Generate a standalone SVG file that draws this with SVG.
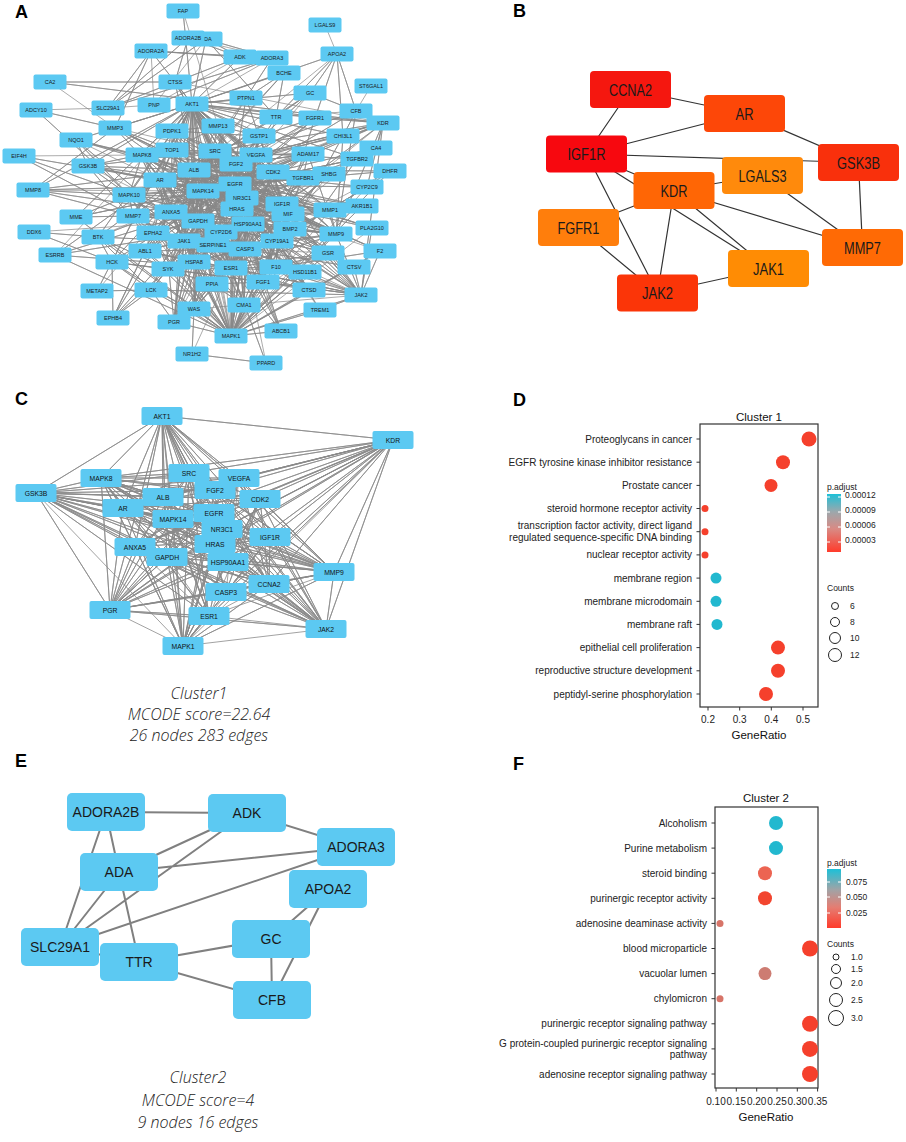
<svg xmlns="http://www.w3.org/2000/svg" width="906" height="1142" viewBox="0 0 906 1142">
<style>
.lbl{font:bold 18px "Liberation Sans",Arial,sans-serif;fill:#000}
.ea{fill:none;stroke:#888;stroke-width:0.7}
.ec{fill:none;stroke:#8a8a8a;stroke-width:0.8}
.eb{fill:none;stroke:#333;stroke-width:1.2}
.ee{fill:none;stroke:#808080;stroke-width:2}
.na text{font:5.5px "Liberation Sans",Arial,sans-serif;text-anchor:middle;fill:#1a1a1a}
.nc text{font:6.8px "Liberation Sans",Arial,sans-serif;text-anchor:middle;fill:#111}
.nb text{font:16px "Liberation Sans",Arial,sans-serif;text-anchor:middle;fill:#1a1a1a}
.ne text{font:14px "Liberation Sans",Arial,sans-serif;text-anchor:middle;fill:#1a1a1a}
.cap{font:italic 300 16px "Open Sans","Liberation Sans",sans-serif;text-anchor:middle;fill:#222}
.t10{font:10px "Liberation Sans",Arial,sans-serif;fill:#222}
.r{text-anchor:end}
.m{text-anchor:middle}
.t8{font:8.5px "Liberation Sans",Arial,sans-serif;fill:#222}
.ttl{font:11.5px "Liberation Sans",Arial,sans-serif;fill:#111;text-anchor:middle}
.box{fill:none;stroke:#333;stroke-width:1.2}
.tk{stroke:#333;stroke-width:1}
.wt{stroke:#fff;stroke-width:1}
.cnt{fill:none;stroke:#222;stroke-width:1}
</style>
<defs>
<rect id="ba" x="-16.5" y="-7.5" width="33" height="15" rx="2" fill="#5cc9f2"/>
<rect id="bc" x="-20.5" y="-9" width="41" height="18" rx="2" fill="#5cc9f2"/>
<rect id="bb" x="-40.5" y="-18.5" width="81" height="37" rx="4"/>
<rect id="be" x="-39" y="-19" width="78" height="38" rx="5" fill="#5cc9f2"/>
<linearGradient id="gd" x1="0" y1="0" x2="0" y2="1">
<stop offset="0" stop-color="#1cc0d8"/><stop offset="0.3" stop-color="#9aa8ad"/><stop offset="0.6" stop-color="#d98a84"/><stop offset="1" stop-color="#ff3b2b"/>
</linearGradient>
<linearGradient id="gf" x1="0" y1="0" x2="0" y2="1">
<stop offset="0" stop-color="#1cc0d8"/><stop offset="0.35" stop-color="#a0a3a6"/><stop offset="0.65" stop-color="#e57d72"/><stop offset="1" stop-color="#ff3b2b"/>
</linearGradient>
</defs>
<rect width="906" height="1142" fill="#fff"/>

<text class="lbl" x="15" y="18">A</text>
<text class="lbl" x="513" y="17">B</text>
<text class="lbl" x="15" y="405">C</text>
<text class="lbl" x="513" y="406">D</text>
<text class="lbl" x="15" y="767">E</text>
<text class="lbl" x="513" y="770">F</text>

<g id="edges-a">
<path class="ea" d="M192 104L214 151L192 104L194 170L192 104L203 191L192 104L232 185L192 104L242 198L192 104L237 209L192 104L248 224L192 104L198 221L192 104L243 249L192 104L231 268L192 104L282 204L192 104L273 172L192 104L236 164L192 104L256 155L192 104L160 180L192 104L170 212L192 104L184 241L192 104L277 241L192 104L288 214L192 104L192 262L192 104L231 336
M214 151L194 170L214 151L203 191L214 151L232 185L214 151L242 198L214 151L237 209L214 151L248 224L214 151L198 221L214 151L243 249L214 151L231 268L214 151L282 204L214 151L273 172L214 151L236 164L214 151L256 155L214 151L160 180L214 151L170 212L214 151L184 241L214 151L277 241L214 151L288 214L214 151L192 262L214 151L231 336
M194 170L203 191L194 170L232 185L194 170L242 198L194 170L237 209L194 170L248 224L194 170L198 221L194 170L243 249L194 170L231 268L194 170L282 204L194 170L273 172L194 170L236 164L194 170L256 155L194 170L160 180L194 170L170 212L194 170L184 241L194 170L277 241L194 170L288 214L194 170L192 262L194 170L231 336
M203 191L232 185L203 191L242 198L203 191L237 209L203 191L248 224L203 191L198 221L203 191L243 249L203 191L231 268L203 191L282 204L203 191L273 172L203 191L236 164L203 191L256 155L203 191L160 180L203 191L170 212L203 191L184 241L203 191L277 241L203 191L288 214L203 191L192 262L203 191L231 336
M232 185L242 198L232 185L237 209L232 185L248 224L232 185L198 221L232 185L243 249L232 185L231 268L232 185L282 204L232 185L273 172L232 185L236 164L232 185L256 155L232 185L160 180L232 185L170 212L232 185L184 241L232 185L277 241L232 185L288 214L232 185L192 262L232 185L231 336
M248 224L198 221L248 224L243 249L248 224L231 268L248 224L282 204L248 224L273 172L248 224L256 155L248 224L160 180L248 224L170 212L248 224L184 241L248 224L277 241L248 224L288 214L248 224L192 262L248 224L231 336
M198 221L243 249L198 221L231 268L198 221L282 204L198 221L273 172L198 221L256 155L198 221L160 180L198 221L184 241L198 221L277 241L198 221L288 214L198 221L192 262L198 221L231 336
M243 249L231 268L243 249L282 204L243 249L273 172L243 249L256 155L243 249L160 180L243 249L170 212L243 249L184 241L243 249L192 262L243 249L231 336L243 249L236 164
M231 268L282 204L231 268L273 172L231 268L256 155L231 268L160 180L231 268L170 212L231 268L184 241L231 268L192 262L231 268L231 336L231 268L288 214L231 268L236 164
M282 204L273 172L282 204L256 155L282 204L160 180L282 204L170 212L282 204L184 241L282 204L192 262L282 204L231 336L282 204L236 164
M273 172L160 180L273 172L170 212L273 172L184 241L273 172L192 262L273 172L231 336L273 172L277 241
M256 155L160 180L256 155L170 212L256 155L184 241L256 155L192 262L256 155L231 336L256 155L288 214L256 155L277 241
M160 180L170 212L160 180L184 241L160 180L192 262L160 180L231 336L160 180L277 241L160 180L288 214L160 180L236 164
M231 336L170 212L231 336L184 241L231 336L192 262L231 336L277 241L231 336L288 214L231 336L236 164L231 336L242 198L231 336L237 209"/>
<path class="ea" d="M183 11L192 104L183 11L218 126
M206 39L240 57L206 39L272 58L206 39L276 117L206 39L108 108L206 39L192 104L206 39L154 105
M188 38L240 57L188 38L108 108L188 38L175 82L188 38L272 58
M151 51L108 108L151 51L192 104L151 51L240 57L151 51L115 128L151 51L272 58L151 51L154 105
M240 57L272 58L240 57L108 108L240 57L192 104L240 57L154 105
M272 58L108 108L272 58L154 105L272 58L246 98L272 58L192 104
M325 25L337 54
M337 54L310 93L337 54L356 111L337 54L276 117L337 54L192 104L337 54L315 118L337 54L343 136L337 54L194 170
M284 73L194 170L284 73L192 104L284 73L276 117L284 73L246 98L284 73L214 151
M371 86L356 111
M50 82L383 123L50 82L175 82L50 82L115 128
M175 82L192 104L175 82L194 170L175 82L214 151L175 82L232 185L175 82L383 123
M310 93L192 104L310 93L194 170L310 93L356 111L310 93L276 117L310 93L203 191L310 93L232 185
M246 98L192 104L246 98L214 151L246 98L232 185L246 98L282 204L246 98L194 170
M36 110L115 128L36 110L129 195L36 110L108 108
M108 108L154 105
M356 111L194 170L356 111L383 123L356 111L343 136L356 111L336 234L356 111L232 185L356 111L276 117
M276 117L194 170L276 117L192 104L276 117L232 185L276 117L231 268
M315 118L192 104L315 118L214 151L315 118L232 185L315 118L236 164L315 118L263 282L315 118L198 221L315 118L383 123L315 118L203 191
M383 123L192 104L383 123L214 151L383 123L256 155L383 123L232 185L383 123L361 295L383 123L273 172L383 123L248 224L383 123L367 187L383 123L336 234L383 123L203 191L383 123L194 170L383 123L236 164L383 123L282 204
M115 128L192 104L115 128L194 170L115 128L203 191L115 128L232 185L115 128L336 234L115 128L330 210L115 128L140 155L115 128L214 151
M172 131L192 104L172 131L214 151L172 131L232 185L172 131L203 191L172 131L194 170
M218 126L192 104L218 126L194 170L218 126L336 234L218 126L232 185
M259 136L194 170L259 136L232 185L259 136L192 104L259 136L243 249
M343 136L192 104L343 136L232 185L343 136L194 170L343 136L231 336L343 136L336 234L343 136L203 191
M76 140L192 104L76 140L88 166L76 140L194 170L76 140L140 155L76 140L129 195L76 140L231 268L76 140L232 185L76 140L160 180
M376 148L273 172L376 148L383 123
M19 156L129 195L19 156L160 180L19 156L133 216L19 156L140 155
M140 155L192 104L140 155L214 151L140 155L194 170L140 155L232 185L140 155L203 191L140 155L198 221L140 155L184 241L140 155L231 336
M172 150L192 104L172 150L214 151L172 150L273 172L172 150L232 185
M308 154L192 104L308 154L232 185L308 154L336 234L308 154L194 170L308 154L303 178L308 154L214 151
M357 159L192 104L357 159L232 185L357 159L303 178L357 159L203 191L357 159L214 151L357 159L231 336L357 159L243 249
M329 174L160 180L329 174L231 268L329 174L194 170L329 174L277 241
M390 171L367 187L390 171L194 170L390 171L232 185L390 171L231 336L390 171L243 249
M88 166L192 104L88 166L160 180L88 166L140 155L88 166L203 191L88 166L214 151L88 166L232 185L88 166L231 336L88 166L231 268L88 166L194 170L88 166L198 221
M367 187L194 170L367 187L277 241L367 187L231 268L367 187L232 185L367 187L231 336
M33 190L115 128L33 190L336 234L33 190L192 104L33 190L194 170L33 190L129 195L33 190L232 185L33 190L133 216L33 190L203 191
M129 195L192 104L129 195L214 151L129 195L232 185L129 195L203 191L129 195L184 241L129 195L231 336L129 195L194 170L129 195L198 221
M362 206L194 170L362 206L232 185L362 206L231 336L362 206L203 191
M330 210L336 234L330 210L232 185L330 210L192 104L330 210L194 170L330 210L231 336
M76 217L133 216L76 217L232 185L76 217L192 104L76 217L231 336L76 217L194 170L76 217L203 191
M133 216L192 104L133 216L232 185L133 216L336 234L133 216L231 336L133 216L194 170L133 216L231 268L133 216L243 249
M372 228L232 185L372 228L194 170L372 228L203 191L372 228L361 295L372 228L231 336
M336 234L192 104L336 234L232 185L336 234L194 170L336 234L231 336L336 234L361 295L336 234L231 268L336 234L243 249L336 234L248 224L336 234L203 191
M34 232L98 237L34 232L112 262L34 232L198 221
M98 237L192 104L98 237L214 151L98 237L168 269L98 237L231 336L98 237L184 241L98 237L232 185L98 237L112 262L98 237L151 290L98 237L203 191
M153 233L214 151L153 233L232 185L153 233L192 104L153 233L231 336
M218 245L192 104L218 245L361 295
M328 253L194 170L328 253L198 221L328 253L248 224L328 253L231 336L328 253L361 295L328 253L243 249
M380 251L194 170L380 251L232 185L380 251L231 336L380 251L361 295L380 251L276 267L380 251L203 191
M55 255L231 268L55 255L160 180L55 255L248 224L55 255L231 336L55 255L242 198L55 255L192 104
M145 251L214 151L145 251L232 185L145 251L361 295L145 251L231 336L145 251L192 104
M112 262L214 151L112 262L168 269L112 262L231 336L112 262L361 295L112 262L151 290L112 262L232 185L112 262L192 104
M168 269L214 151L168 269L361 295L168 269L231 336L168 269L151 290L168 269L232 185
M354 267L309 290L354 267L361 295L354 267L194 170L354 267L243 249L354 267L232 185L354 267L231 336
M305 272L231 268L305 272L194 170L305 272L231 336L305 272L242 198
M276 267L194 170L276 267L231 336
M263 282L236 164L263 282L232 185L263 282L231 336L263 282L192 104
M212 284L194 170L212 284L231 336L212 284L248 224
M97 291L151 290L97 291L192 104L97 291L214 151
M151 290L214 151L151 290L232 185L151 290L231 336L151 290L361 295L151 290L174 322L151 290L194 309
M309 290L243 249L309 290L194 170L309 290L232 185L309 290L231 336L309 290L192 104
M361 295L232 185L361 295L214 151L361 295L192 104L361 295L194 170L361 295L248 224L361 295L231 336L361 295L231 268L361 295L243 249L361 295L282 204L361 295L184 241L361 295L273 172L361 295L320 310L361 295L203 191L361 295L198 221
M244 305L231 336L244 305L194 170L244 305L232 185L244 305L336 234
M194 309L214 151L194 309L231 336L194 309L232 185L194 309L192 354L194 309L361 295
M320 310L231 336L320 310L192 104L320 310L232 185
M113 318L214 151L113 318L232 185L113 318L151 290L113 318L112 262L113 318L168 269L113 318L145 251L113 318L153 233
M174 322L231 268L174 322L160 180L174 322L232 185L174 322L231 336L174 322L192 104L174 322L242 198
M281 331L232 185L281 331L194 170L281 331L231 268L281 331L231 336L281 331L243 249L281 331L192 104
M192 354L266 363L192 354L231 268
M266 363L231 268L266 363L243 249"/>
<path class="ea" d="M172 150L172 131L172 150L218 126L172 150L160 180L172 150L171 212L172 150L198 221L172 150L248 224L172 150L231 336L172 150L231 268L172 150L245 249
M172 131L218 126L172 131L259 136L172 131L160 180L172 131L198 221L172 131L248 224L172 131L282 204L172 131L273 172L172 131L236 164
M218 126L259 136L218 126L236 164L218 126L256 155L218 126L273 172L218 126L237 209L218 126L203 191L218 126L242 198L218 126L231 268L218 126L330 210
M259 136L236 164L259 136L273 172L259 136L242 198L259 136L237 209L259 136L248 224L259 136L288 214L259 136L198 221L259 136L231 268L259 136L231 336
M142 155L160 180L142 155L129 195L142 155L171 212L142 155L237 209L142 155L242 198L142 155L245 249L142 155L231 268L142 155L248 224L142 155L236 164L142 155L172 150
M129 195L160 180L129 195L133 216L129 195L171 212L129 195L153 233L129 195L237 209L129 195L248 224L129 195L242 198L129 195L245 249L129 195L231 268
M133 216L171 212L133 216L153 233L133 216L198 221L133 216L184 241L133 216L237 209L133 216L203 191L133 216L248 224L133 216L330 210
M153 233L171 212L153 233L198 221L153 233L184 241L153 233L194 262L153 233L168 269L153 233L145 251L153 233L245 249L153 233L237 209L153 233L231 268L153 233L203 191
M145 251L168 269L145 251L184 241L145 251L194 262L145 251L198 221L145 251L171 212L145 251L203 191L145 251L248 224L145 251L245 249L145 251L231 268
M168 269L194 262L168 269L184 241L168 269L198 221L168 269L212 284L168 269L231 268L168 269L245 249L168 269L248 224L168 269L203 191L168 269L237 209L168 269L194 170
M212 284L194 262L212 284L231 268L212 284L245 249L212 284L198 221L212 284L184 241L212 284L263 282L212 284L244 305L212 284L242 198L212 284L237 209
M263 282L231 268L263 282L245 249L263 282L248 224L263 282L277 241L263 282L276 267L263 282L237 209L263 282L282 204L263 282L244 305L263 282L198 221
M276 267L231 268L276 267L245 249L276 267L248 224L276 267L277 241L276 267L235 184L276 267L237 209L276 267L242 198L276 267L282 204L276 267L290 229
M244 305L231 268L244 305L245 249L244 305L248 224L244 305L194 262L244 305L198 221L244 305L237 209L244 305L184 241L244 305L203 191
M194 309L194 262L194 309L231 268L194 309L245 249L194 309L198 221L194 309L184 241L194 309L248 224L194 309L203 191L194 309L194 170
M277 241L290 229L277 241L288 214L277 241L282 204L277 241L242 198L277 241L237 209L277 241L336 234L277 241L328 253
M290 229L288 214L290 229L282 204L290 229L242 198L290 229L237 209L290 229L248 224L290 229L273 172L290 229L256 155L290 229L236 164L290 229L194 170L290 229L203 191L290 229L192 104L290 229L231 336L290 229L231 268
M288 214L242 198L288 214L237 209L288 214L303 178L288 214L194 170L288 214L203 191
M303 178L273 172L303 178L256 155L303 178L235 184L303 178L242 198L303 178L237 209L303 178L214 151L303 178L194 170L303 178L203 191L303 178L282 204L303 178L231 336
M308 154L256 155L308 154L273 172L308 154L236 164L308 154L242 198L308 154L237 209L308 154L203 191L308 154L282 204L308 154L231 268
M329 174L273 172L329 174L235 184L329 174L242 198L329 174L237 209L329 174L282 204L329 174L288 214L329 174L245 249L329 174L248 224
M330 210L282 204L330 210L288 214L330 210L290 229L330 210L237 209L330 210L242 198L330 210L248 224L330 210L203 191L330 210L273 172
M336 234L290 229L336 234L237 209L336 234L242 198L336 234L282 204L336 234L288 214L336 234L273 172
M328 253L231 268L328 253L237 209L328 253L235 184L328 253L276 267L328 253L290 229
M309 290L231 268L309 290L248 224L309 290L276 267L309 290L277 241L309 290L263 282L309 290L237 209
M305 272L245 249L305 272L248 224L305 272L277 241L305 272L235 184
M174 322L194 262L174 322L245 249L174 322L248 224L174 322L184 241L174 322L198 221L174 322L194 170L174 322L203 191
M160 180L242 198L160 180L237 209L160 180L198 221L160 180L248 224L160 180L245 249"/>
</g>

<g id="nodes-a" class="na">
<g id="a-FAP" transform="translate(183 11)"><use href="#ba"/><text y="2">FAP</text></g>
<g id="a-ADA" transform="translate(206 39)"><use href="#ba"/><text y="2">ADA</text></g>
<g id="a-ADORA2B" transform="translate(188 38)"><use href="#ba"/><text y="2">ADORA2B</text></g>
<g id="a-ADORA2A" transform="translate(151 51)"><use href="#ba"/><text y="2">ADORA2A</text></g>
<g id="a-ADK" transform="translate(240 57)"><use href="#ba"/><text y="2">ADK</text></g>
<g id="a-ADORA3" transform="translate(272 58)"><use href="#ba"/><text y="2">ADORA3</text></g>
<g id="a-LGALS9" transform="translate(325 25)"><use href="#ba"/><text y="2">LGALS9</text></g>
<g id="a-APOA2" transform="translate(337 54)"><use href="#ba"/><text y="2">APOA2</text></g>
<g id="a-BCHE" transform="translate(284 73)"><use href="#ba"/><text y="2">BCHE</text></g>
<g id="a-ST6GAL1" transform="translate(371 86)"><use href="#ba"/><text y="2">ST6GAL1</text></g>
<g id="a-CA2" transform="translate(50 82)"><use href="#ba"/><text y="2">CA2</text></g>
<g id="a-CTSS" transform="translate(175 82)"><use href="#ba"/><text y="2">CTSS</text></g>
<g id="a-GC" transform="translate(310 93)"><use href="#ba"/><text y="2">GC</text></g>
<g id="a-PTPN1" transform="translate(246 98)"><use href="#ba"/><text y="2">PTPN1</text></g>
<g id="a-ADCY10" transform="translate(36 110)"><use href="#ba"/><text y="2">ADCY10</text></g>
<g id="a-SLC29A1" transform="translate(108 108)"><use href="#ba"/><text y="2">SLC29A1</text></g>
<g id="a-PNP" transform="translate(154 105)"><use href="#ba"/><text y="2">PNP</text></g>
<g id="a-AKT1" transform="translate(192 104)"><use href="#ba"/><text y="2">AKT1</text></g>
<g id="a-CFB" transform="translate(356 111)"><use href="#ba"/><text y="2">CFB</text></g>
<g id="a-TTR" transform="translate(276 117)"><use href="#ba"/><text y="2">TTR</text></g>
<g id="a-FGFR1" transform="translate(315 118)"><use href="#ba"/><text y="2">FGFR1</text></g>
<g id="a-KDR" transform="translate(383 123)"><use href="#ba"/><text y="2">KDR</text></g>
<g id="a-MMP3" transform="translate(115 128)"><use href="#ba"/><text y="2">MMP3</text></g>
<g id="a-PDPK1" transform="translate(172 131)"><use href="#ba"/><text y="2">PDPK1</text></g>
<g id="a-MMP13" transform="translate(218 126)"><use href="#ba"/><text y="2">MMP13</text></g>
<g id="a-GSTP1" transform="translate(259 136)"><use href="#ba"/><text y="2">GSTP1</text></g>
<g id="a-CHI3L1" transform="translate(343 136)"><use href="#ba"/><text y="2">CHI3L1</text></g>
<g id="a-NQO1" transform="translate(76 140)"><use href="#ba"/><text y="2">NQO1</text></g>
<g id="a-CA4" transform="translate(376 148)"><use href="#ba"/><text y="2">CA4</text></g>
<g id="a-EIF4H" transform="translate(19 156)"><use href="#ba"/><text y="2">EIF4H</text></g>
<g id="a-TOP1" transform="translate(172 150)"><use href="#ba"/><text y="2">TOP1</text></g>
<g id="a-MAPK8" transform="translate(142 155)"><use href="#ba"/><text y="2">MAPK8</text></g>
<g id="a-SRC" transform="translate(215 151)"><use href="#ba"/><text y="2">SRC</text></g>
<g id="a-VEGFA" transform="translate(256 155)"><use href="#ba"/><text y="2">VEGFA</text></g>
<g id="a-ADAM17" transform="translate(308 154)"><use href="#ba"/><text y="2">ADAM17</text></g>
<g id="a-TGFBR2" transform="translate(357 159)"><use href="#ba"/><text y="2">TGFBR2</text></g>
<g id="a-SHBG" transform="translate(329 174)"><use href="#ba"/><text y="2">SHBG</text></g>
<g id="a-TGFBR1" transform="translate(303 178)"><use href="#ba"/><text y="2">TGFBR1</text></g>
<g id="a-DHFR" transform="translate(390 171)"><use href="#ba"/><text y="2">DHFR</text></g>
<g id="a-CYP2C9" transform="translate(367 187)"><use href="#ba"/><text y="2">CYP2C9</text></g>
<g id="a-FGF2" transform="translate(236 164)"><use href="#ba"/><text y="2">FGF2</text></g>
<g id="a-CDK2" transform="translate(273 172)"><use href="#ba"/><text y="2">CDK2</text></g>
<g id="a-GSK3B" transform="translate(88 166)"><use href="#ba"/><text y="2">GSK3B</text></g>
<g id="a-ALB" transform="translate(194 170)"><use href="#ba"/><text y="2">ALB</text></g>
<g id="a-AR" transform="translate(160 180)"><use href="#ba"/><text y="2">AR</text></g>
<g id="a-EGFR" transform="translate(235 184)"><use href="#ba"/><text y="2">EGFR</text></g>
<g id="a-MMP8" transform="translate(33 190)"><use href="#ba"/><text y="2">MMP8</text></g>
<g id="a-MAPK10" transform="translate(129 195)"><use href="#ba"/><text y="2">MAPK10</text></g>
<g id="a-MAPK14" transform="translate(203 191)"><use href="#ba"/><text y="2">MAPK14</text></g>
<g id="a-NR3C1" transform="translate(242 198)"><use href="#ba"/><text y="2">NR3C1</text></g>
<g id="a-AKR1B1" transform="translate(362 206)"><use href="#ba"/><text y="2">AKR1B1</text></g>
<g id="a-MMP1" transform="translate(330 210)"><use href="#ba"/><text y="2">MMP1</text></g>
<g id="a-IGF1R" transform="translate(282 204)"><use href="#ba"/><text y="2">IGF1R</text></g>
<g id="a-MIF" transform="translate(288 214)"><use href="#ba"/><text y="2">MIF</text></g>
<g id="a-HRAS" transform="translate(237 209)"><use href="#ba"/><text y="2">HRAS</text></g>
<g id="a-MME" transform="translate(76 217)"><use href="#ba"/><text y="2">MME</text></g>
<g id="a-MMP7" transform="translate(133 216)"><use href="#ba"/><text y="2">MMP7</text></g>
<g id="a-ANXA5" transform="translate(171 212)"><use href="#ba"/><text y="2">ANXA5</text></g>
<g id="a-CYP2D6" transform="translate(221 232)"><use href="#ba"/><text y="2">CYP2D6</text></g>
<g id="a-GAPDH" transform="translate(198 221)"><use href="#ba"/><text y="2">GAPDH</text></g>
<g id="a-HSP90AA1" transform="translate(248 224)"><use href="#ba"/><text y="2">HSP90AA1</text></g>
<g id="a-BMP2" transform="translate(290 229)"><use href="#ba"/><text y="2">BMP2</text></g>
<g id="a-PLA2G10" transform="translate(372 228)"><use href="#ba"/><text y="2">PLA2G10</text></g>
<g id="a-MMP9" transform="translate(336 234)"><use href="#ba"/><text y="2">MMP9</text></g>
<g id="a-DDX6" transform="translate(34 232)"><use href="#ba"/><text y="2">DDX6</text></g>
<g id="a-BTK" transform="translate(98 237)"><use href="#ba"/><text y="2">BTK</text></g>
<g id="a-EPHA2" transform="translate(153 233)"><use href="#ba"/><text y="2">EPHA2</text></g>
<g id="a-JAK1" transform="translate(184 241)"><use href="#ba"/><text y="2">JAK1</text></g>
<g id="a-SERPINE1" transform="translate(213 245)"><use href="#ba"/><text y="2">SERPINE1</text></g>
<g id="a-CYP19A1" transform="translate(277 241)"><use href="#ba"/><text y="2">CYP19A1</text></g>
<g id="a-CASP3" transform="translate(245 249)"><use href="#ba"/><text y="2">CASP3</text></g>
<g id="a-GSR" transform="translate(328 253)"><use href="#ba"/><text y="2">GSR</text></g>
<g id="a-F2" transform="translate(380 251)"><use href="#ba"/><text y="2">F2</text></g>
<g id="a-ESRRB" transform="translate(55 255)"><use href="#ba"/><text y="2">ESRRB</text></g>
<g id="a-ABL1" transform="translate(145 251)"><use href="#ba"/><text y="2">ABL1</text></g>
<g id="a-HCK" transform="translate(112 262)"><use href="#ba"/><text y="2">HCK</text></g>
<g id="a-HSPA8" transform="translate(194 262)"><use href="#ba"/><text y="2">HSPA8</text></g>
<g id="a-SYK" transform="translate(168 269)"><use href="#ba"/><text y="2">SYK</text></g>
<g id="a-ESR1" transform="translate(231 268)"><use href="#ba"/><text y="2">ESR1</text></g>
<g id="a-HSD11B1" transform="translate(305 272)"><use href="#ba"/><text y="2">HSD11B1</text></g>
<g id="a-F10" transform="translate(276 267)"><use href="#ba"/><text y="2">F10</text></g>
<g id="a-CTSV" transform="translate(354 267)"><use href="#ba"/><text y="2">CTSV</text></g>
<g id="a-FGF1" transform="translate(263 282)"><use href="#ba"/><text y="2">FGF1</text></g>
<g id="a-PPIA" transform="translate(212 284)"><use href="#ba"/><text y="2">PPIA</text></g>
<g id="a-METAP2" transform="translate(97 291)"><use href="#ba"/><text y="2">METAP2</text></g>
<g id="a-LCK" transform="translate(151 290)"><use href="#ba"/><text y="2">LCK</text></g>
<g id="a-CTSD" transform="translate(309 290)"><use href="#ba"/><text y="2">CTSD</text></g>
<g id="a-JAK2" transform="translate(361 295)"><use href="#ba"/><text y="2">JAK2</text></g>
<g id="a-CMA1" transform="translate(244 305)"><use href="#ba"/><text y="2">CMA1</text></g>
<g id="a-WAS" transform="translate(194 309)"><use href="#ba"/><text y="2">WAS</text></g>
<g id="a-TREM1" transform="translate(320 310)"><use href="#ba"/><text y="2">TREM1</text></g>
<g id="a-EPHB4" transform="translate(113 318)"><use href="#ba"/><text y="2">EPHB4</text></g>
<g id="a-PGR" transform="translate(174 322)"><use href="#ba"/><text y="2">PGR</text></g>
<g id="a-ABCB1" transform="translate(281 331)"><use href="#ba"/><text y="2">ABCB1</text></g>
<g id="a-MAPK1" transform="translate(231 336)"><use href="#ba"/><text y="2">MAPK1</text></g>
<g id="a-NR1H2" transform="translate(192 354)"><use href="#ba"/><text y="2">NR1H2</text></g>
<g id="a-PPARD" transform="translate(266 363)"><use href="#ba"/><text y="2">PPARD</text></g>
</g>

<g id="edges-b" class="eb">
<path d="M630.5 89.5L744.5 113.5M630.5 89.5L586.5 154M586.5 154L744.5 113.5M744.5 113.5L858.5 162.5M586.5 154L858.5 162.5M586.5 154L674 190.5M586.5 154L768.5 268.5M674 190.5L768.5 268.5M674 190.5L762.5 175.5M674 190.5L578.5 227.5M674 190.5L657.5 293M674 190.5L862.5 247.5M762.5 175.5L862.5 247.5M858.5 162.5L862.5 247.5M586.5 154L657.5 293M578.5 227.5L657.5 293M657.5 293L768.5 268.5"/>
</g>
<g id="nodes-b" class="nb">
<g id="b-CCNA2" transform="translate(630.5 89.5)"><use href="#bb" fill="#f5170f"/><text y="6" textLength="43" lengthAdjust="spacingAndGlyphs">CCNA2</text></g>
<g id="b-AR" transform="translate(744.5 113.5)"><use href="#bb" fill="#fd4708"/><text y="6" textLength="18" lengthAdjust="spacingAndGlyphs">AR</text></g>
<g id="b-IGF1R" transform="translate(586.5 154)"><use href="#bb" fill="#f7080f"/><text y="6" textLength="38" lengthAdjust="spacingAndGlyphs">IGF1R</text></g>
<g id="b-GSK3B" transform="translate(858.5 162.5)"><use href="#bb" fill="#f9300c"/><text y="6" textLength="43" lengthAdjust="spacingAndGlyphs">GSK3B</text></g>
<g id="b-LGALS3" transform="translate(762.5 175.5)"><use href="#bb" fill="#ff8a0c"/><text y="6" textLength="48" lengthAdjust="spacingAndGlyphs">LGALS3</text></g>
<g id="b-KDR" transform="translate(674 190.5)"><use href="#bb" fill="#ff6605"/><text y="6" textLength="27" lengthAdjust="spacingAndGlyphs">KDR</text></g>
<g id="b-FGFR1" transform="translate(578.5 227.5)"><use href="#bb" fill="#ff7e0c"/><text y="6" textLength="42" lengthAdjust="spacingAndGlyphs">FGFR1</text></g>
<g id="b-MMP7" transform="translate(862.5 247.5)"><use href="#bb" fill="#ff6a05"/><text y="6" textLength="37" lengthAdjust="spacingAndGlyphs">MMP7</text></g>
<g id="b-JAK1" transform="translate(768.5 268.5)"><use href="#bb" fill="#ff8c04"/><text y="6" textLength="31" lengthAdjust="spacingAndGlyphs">JAK1</text></g>
<g id="b-JAK2" transform="translate(657.5 293)"><use href="#bb" fill="#fb3508"/><text y="6" textLength="31" lengthAdjust="spacingAndGlyphs">JAK2</text></g>
</g>

<g id="edges-c" class="ec">
<path d="M162 416L393 440L162 416L189 473L162 416L239 478L162 416L101 478L162 416L215 490L162 416L36 493L162 416L163 497L162 416L260 499L162 416L123 508L162 416L214 513L162 416L173 519L162 416L222 529L162 416L270 537L162 416L215 544L162 416L135 547L162 416L167 557L162 416L228 562L162 416L334 572L162 416L269 584L162 416L226 592L162 416L110 610L162 416L209 616L162 416L326 629L162 416L183 646
M393 440L189 473L393 440L239 478L393 440L101 478L393 440L215 490L393 440L163 497L393 440L260 499L393 440L123 508L393 440L214 513L393 440L173 519L393 440L222 529L393 440L270 537L393 440L215 544L393 440L135 547L393 440L167 557L393 440L228 562L393 440L334 572L393 440L269 584L393 440L226 592L393 440L110 610L393 440L209 616L393 440L326 629L393 440L183 646
M36 493L189 473L36 493L239 478L36 493L101 478L36 493L215 490L36 493L163 497L36 493L260 499L36 493L123 508L36 493L214 513L36 493L173 519L36 493L222 529L36 493L270 537L36 493L215 544L36 493L135 547L36 493L167 557L36 493L228 562L36 493L334 572L36 493L269 584L36 493L226 592L36 493L110 610L36 493L209 616L36 493L326 629L36 493L183 646
M101 478L189 473L101 478L239 478L101 478L215 490L101 478L163 497L101 478L260 499L101 478L123 508L101 478L214 513L101 478L173 519L101 478L222 529L101 478L270 537L101 478L215 544L101 478L135 547L101 478L167 557L101 478L228 562L101 478L334 572L101 478L269 584L101 478L226 592L101 478L110 610L101 478L209 616L101 478L326 629L101 478L183 646
M110 610L189 473L110 610L239 478L110 610L215 490L110 610L163 497L110 610L260 499L110 610L123 508L110 610L214 513L110 610L173 519L110 610L222 529L110 610L270 537L110 610L215 544L110 610L135 547L110 610L167 557L110 610L228 562L110 610L334 572L110 610L269 584L110 610L226 592L110 610L209 616L110 610L326 629L110 610L183 646
M183 646L189 473L183 646L239 478L183 646L215 490L183 646L163 497L183 646L260 499L183 646L123 508L183 646L214 513L183 646L173 519L183 646L222 529L183 646L270 537L183 646L215 544L183 646L135 547L183 646L167 557L183 646L228 562L183 646L334 572L183 646L269 584L183 646L226 592L183 646L209 616L183 646L326 629
M326 629L189 473L326 629L239 478L326 629L215 490L326 629L163 497L326 629L260 499L326 629L123 508L326 629L214 513L326 629L173 519L326 629L222 529L326 629L270 537L326 629L215 544L326 629L135 547L326 629L167 557L326 629L228 562L326 629L334 572L326 629L269 584L326 629L226 592L326 629L209 616
M334 572L189 473L334 572L239 478L334 572L215 490L334 572L163 497L334 572L260 499L334 572L123 508L334 572L214 513L334 572L173 519L334 572L222 529L334 572L270 537L334 572L215 544L334 572L135 547L334 572L167 557L334 572L228 562L334 572L269 584L334 572L226 592L334 572L209 616
M123 508L189 473L123 508L239 478L123 508L215 490L123 508L260 499L123 508L214 513L123 508L222 529L123 508L270 537L123 508L215 544L123 508L228 562L123 508L269 584L123 508L226 592L123 508L209 616
M135 547L189 473L135 547L239 478L135 547L215 490L135 547L260 499L135 547L214 513L135 547L222 529L135 547L270 537L135 547L228 562L135 547L269 584L135 547L226 592L135 547L209 616
M260 499L189 473L260 499L163 497L260 499L173 519L260 499L167 557L260 499L228 562L260 499L269 584L260 499L226 592L260 499L209 616
M270 537L189 473L270 537L239 478L270 537L163 497L270 537L173 519L270 537L167 557L270 537L269 584L270 537L226 592L270 537L209 616
M269 584L189 473L269 584L239 478L269 584L215 490L269 584L163 497L269 584L214 513L269 584L173 519L269 584L167 557L269 584L209 616
M209 616L189 473L209 616L239 478L209 616L163 497L209 616L173 519L209 616L167 557
M239 478L163 497L239 478L173 519L239 478L167 557L239 478L226 592
M189 473L167 557L189 473L226 592L189 473L228 562"/>
</g>
<g id="nodes-c" class="nc">
<g id="c-AKT1" transform="translate(162 416)"><use href="#bc"/><text y="2.5">AKT1</text></g>
<g id="c-KDR" transform="translate(393 440)"><use href="#bc"/><text y="2.5">KDR</text></g>
<g id="c-GSK3B" transform="translate(36 493)"><use href="#bc"/><text y="2.5">GSK3B</text></g>
<g id="c-MAPK8" transform="translate(101 478)"><use href="#bc"/><text y="2.5">MAPK8</text></g>
<g id="c-SRC" transform="translate(189 473)"><use href="#bc"/><text y="2.5">SRC</text></g>
<g id="c-VEGFA" transform="translate(239 478)"><use href="#bc"/><text y="2.5">VEGFA</text></g>
<g id="c-FGF2" transform="translate(215 490)"><use href="#bc"/><text y="2.5">FGF2</text></g>
<g id="c-ALB" transform="translate(163 497)"><use href="#bc"/><text y="2.5">ALB</text></g>
<g id="c-CDK2" transform="translate(260 499)"><use href="#bc"/><text y="2.5">CDK2</text></g>
<g id="c-AR" transform="translate(123 508)"><use href="#bc"/><text y="2.5">AR</text></g>
<g id="c-EGFR" transform="translate(214 513)"><use href="#bc"/><text y="2.5">EGFR</text></g>
<g id="c-MAPK14" transform="translate(173 519)"><use href="#bc"/><text y="2.5">MAPK14</text></g>
<g id="c-NR3C1" transform="translate(222 529)"><use href="#bc"/><text y="2.5">NR3C1</text></g>
<g id="c-IGF1R" transform="translate(270 537)"><use href="#bc"/><text y="2.5">IGF1R</text></g>
<g id="c-HRAS" transform="translate(215 544)"><use href="#bc"/><text y="2.5">HRAS</text></g>
<g id="c-ANXA5" transform="translate(135 547)"><use href="#bc"/><text y="2.5">ANXA5</text></g>
<g id="c-GAPDH" transform="translate(167 557)"><use href="#bc"/><text y="2.5">GAPDH</text></g>
<g id="c-HSP90AA1" transform="translate(228 562)"><use href="#bc"/><text y="2.5">HSP90AA1</text></g>
<g id="c-MMP9" transform="translate(334 572)"><use href="#bc"/><text y="2.5">MMP9</text></g>
<g id="c-CCNA2" transform="translate(269 584)"><use href="#bc"/><text y="2.5">CCNA2</text></g>
<g id="c-CASP3" transform="translate(226 592)"><use href="#bc"/><text y="2.5">CASP3</text></g>
<g id="c-PGR" transform="translate(110 610)"><use href="#bc"/><text y="2.5">PGR</text></g>
<g id="c-ESR1" transform="translate(209 616)"><use href="#bc"/><text y="2.5">ESR1</text></g>
<g id="c-JAK2" transform="translate(326 629)"><use href="#bc"/><text y="2.5">JAK2</text></g>
<g id="c-MAPK1" transform="translate(183 646)"><use href="#bc"/><text y="2.5">MAPK1</text></g>
</g>
<g id="caption-c" class="cap">
<text x="199" y="699">Cluster1</text>
<text x="199" y="720">MCODE score=22.64</text>
<text x="199" y="741">26 nodes 283 edges</text>
</g>

<g id="chart-d">
<text class="ttl" x="759" y="421">Cluster 1</text>
<rect class="box" x="700" y="424" width="118" height="283"/>
<g class="t10 r">
<text x="692" y="442.5">Proteoglycans in cancer</text>
<text x="692" y="465.7">EGFR tyrosine kinase inhibitor resistance</text>
<text x="692" y="488.9">Prostate cancer</text>
<text x="692" y="512">steroid hormone receptor activity</text>
<text x="692" y="529">transcription factor activity, direct ligand</text>
<text x="692" y="540.5">regulated sequence-specific DNA binding</text>
<text x="692" y="558.4">nuclear receptor activity</text>
<text x="692" y="581.6">membrane region</text>
<text x="692" y="604.8">membrane microdomain</text>
<text x="692" y="627.9">membrane raft</text>
<text x="692" y="651.1">epithelial cell proliferation</text>
<text x="692" y="674.3">reproductive structure development</text>
<text x="692" y="697.5">peptidyl-serine phosphorylation</text>
</g>
<path class="tk" d="M696.5 439H700M696.5 462.2H700M696.5 485.4H700M696.5 508.5H700M696.5 531.7H700M696.5 554.9H700M696.5 578.1H700M696.5 601.3H700M696.5 624.4H700M696.5 647.6H700M696.5 670.8H700M696.5 694H700M708 707V710.5M739.7 707V710.5M771.3 707V710.5M803 707V710.5"/>
<g class="t10 m">
<text x="708" y="722.5">0.2</text><text x="739.7" y="722.5">0.3</text><text x="771.3" y="722.5">0.4</text><text x="803" y="722.5">0.5</text>
</g>
<text class="ttl" x="759" y="739">GeneRatio</text>
<g fill="#f5402c">
<circle cx="809" cy="439" r="7.5"/><circle cx="783" cy="462.2" r="7"/><circle cx="771" cy="485.4" r="6.5"/>
<circle cx="705" cy="508.5" r="3.5"/><circle cx="705" cy="531.7" r="3.5"/><circle cx="705" cy="554.9" r="3.5"/>
<circle cx="778" cy="647.6" r="7"/><circle cx="778" cy="670.8" r="7"/><circle cx="766" cy="694" r="7"/>
</g>
<g fill="#22b8cf">
<circle cx="716" cy="578.1" r="5.5"/><circle cx="716" cy="601.3" r="5.5"/><circle cx="717" cy="624.4" r="5.5"/>
</g>
<text class="t8" x="827" y="490">p.adjust</text>
<rect x="827" y="494" width="14" height="58" fill="url(#gd)"/>
<path class="wt" d="M827 497H830M838 497H841M827 512H830M838 512H841M827 527H830M838 527H841M827 542H830M838 542H841"/>
<g class="t8">
<text x="845" y="497.5">0.00012</text><text x="845" y="512.5">0.00009</text><text x="845" y="527.5">0.00006</text><text x="845" y="542.5">0.00003</text>
<text x="827" y="591">Counts</text>
<text x="850" y="609">6</text><text x="850" y="625">8</text><text x="850" y="641">10</text><text x="850" y="658">12</text>
</g>
<g class="cnt">
<circle cx="835" cy="606" r="3.5"/><circle cx="835" cy="622" r="4.5"/><circle cx="835" cy="638" r="5.5"/><circle cx="835" cy="655" r="6.5"/>
</g>
</g>

<g id="edges-e" class="ee">
<path d="M106 812L247 813M106 812L119 872M106 812L60 947M247 813L356 847M247 813L119 872M247 813L60 947M356 847L119 872M356 847L60 947M119 872L60 947M119 872L139 962M139 962L271 939M139 962L272 1000M271 939L272 1000M328 889L271 939M328 889L272 1000M60 947L139 962"/>
</g>
<g id="nodes-e" class="ne">
<g id="e-ADORA2B" transform="translate(106 812)"><use href="#be"/><text y="5">ADORA2B</text></g>
<g id="e-ADK" transform="translate(247 813)"><use href="#be"/><text y="5">ADK</text></g>
<g id="e-ADORA3" transform="translate(356 847)"><use href="#be"/><text y="5">ADORA3</text></g>
<g id="e-ADA" transform="translate(119 872)"><use href="#be"/><text y="5">ADA</text></g>
<g id="e-APOA2" transform="translate(328 889)"><use href="#be"/><text y="5">APOA2</text></g>
<g id="e-SLC29A1" transform="translate(60 947)"><use href="#be"/><text y="5">SLC29A1</text></g>
<g id="e-GC" transform="translate(271 939)"><use href="#be"/><text y="5">GC</text></g>
<g id="e-TTR" transform="translate(139 962)"><use href="#be"/><text y="5">TTR</text></g>
<g id="e-CFB" transform="translate(272 1000)"><use href="#be"/><text y="5">CFB</text></g>
</g>
<g id="caption-e" class="cap">
<text x="198" y="1083">Cluster2</text>
<text x="198" y="1106">MCODE score=4</text>
<text x="198" y="1128">9 nodes 16 edges</text>
</g>

<g id="chart-f">
<text class="ttl" x="766" y="802">Cluster 2</text>
<rect class="box" x="715" y="807" width="103" height="281"/>
<g class="t10 r">
<text x="707" y="826.5">Alcoholism</text>
<text x="707" y="851.6">Purine metabolism</text>
<text x="707" y="876.7">steroid binding</text>
<text x="707" y="901.8">purinergic receptor activity</text>
<text x="707" y="926.9">adenosine deaminase activity</text>
<text x="707" y="952">blood microparticle</text>
<text x="707" y="977.1">vacuolar lumen</text>
<text x="707" y="1002.2">chylomicron</text>
<text x="707" y="1027.3">purinergic receptor signaling pathway</text>
<text x="707" y="1047">G protein-coupled purinergic receptor signaling</text>
<text x="707" y="1058">pathway</text>
<text x="707" y="1077.5">adenosine receptor signaling pathway</text>
</g>
<path class="tk" d="M711.5 823H715M711.5 848.1H715M711.5 873.2H715M711.5 898.3H715M711.5 923.4H715M711.5 948.5H715M711.5 973.6H715M711.5 998.7H715M711.5 1023.8H715M711.5 1048.9H715M711.5 1074H715M716 1088V1091.5M736.3 1088V1091.5M756.7 1088V1091.5M777 1088V1091.5M797.3 1088V1091.5M817.6 1088V1091.5"/>
<g class="t10 m">
<text x="716" y="1105">0.10</text><text x="736.3" y="1105">0.15</text><text x="756.7" y="1105">0.20</text><text x="777" y="1105">0.25</text><text x="797.3" y="1105">0.30</text><text x="817.6" y="1105">0.35</text>
</g>
<text class="ttl" x="766" y="1121">GeneRatio</text>
<circle cx="776" cy="823" r="7" fill="#22b8cf"/>
<circle cx="776" cy="848.1" r="7" fill="#22b8cf"/>
<circle cx="765" cy="873.2" r="7" fill="#ec6452"/>
<circle cx="765" cy="898.3" r="7" fill="#f2452f"/>
<circle cx="720" cy="923.4" r="3.5" fill="#d77468"/>
<circle cx="810" cy="948.5" r="8" fill="#f5402c"/>
<circle cx="765" cy="973.6" r="6.5" fill="#cd7c72"/>
<circle cx="720" cy="998.7" r="3.5" fill="#d77468"/>
<circle cx="810" cy="1023.8" r="8" fill="#f5402c"/>
<circle cx="810" cy="1048.9" r="8" fill="#f5402c"/>
<circle cx="810" cy="1074" r="8" fill="#f5402c"/>
<text class="t8" x="827" y="866">p.adjust</text>
<rect x="827" y="869" width="14" height="59" fill="url(#gf)"/>
<path class="wt" d="M827 882H830M838 882H841M827 897H830M838 897H841M827 913H830M838 913H841"/>
<g class="t8">
<text x="846" y="885">0.075</text><text x="846" y="900">0.050</text><text x="846" y="916">0.025</text>
<text x="827" y="947">Counts</text>
<text x="851" y="960">1.0</text><text x="851" y="972">1.5</text><text x="851" y="986">2.0</text><text x="851" y="1003">2.5</text><text x="851" y="1021">3.0</text>
</g>
<g class="cnt">
<circle cx="836" cy="957" r="3"/><circle cx="836" cy="969" r="4.5"/><circle cx="836" cy="983" r="5.5"/><circle cx="836" cy="1000" r="6.5"/><circle cx="836" cy="1018" r="7.5"/>
</g>
</g>
</svg>
